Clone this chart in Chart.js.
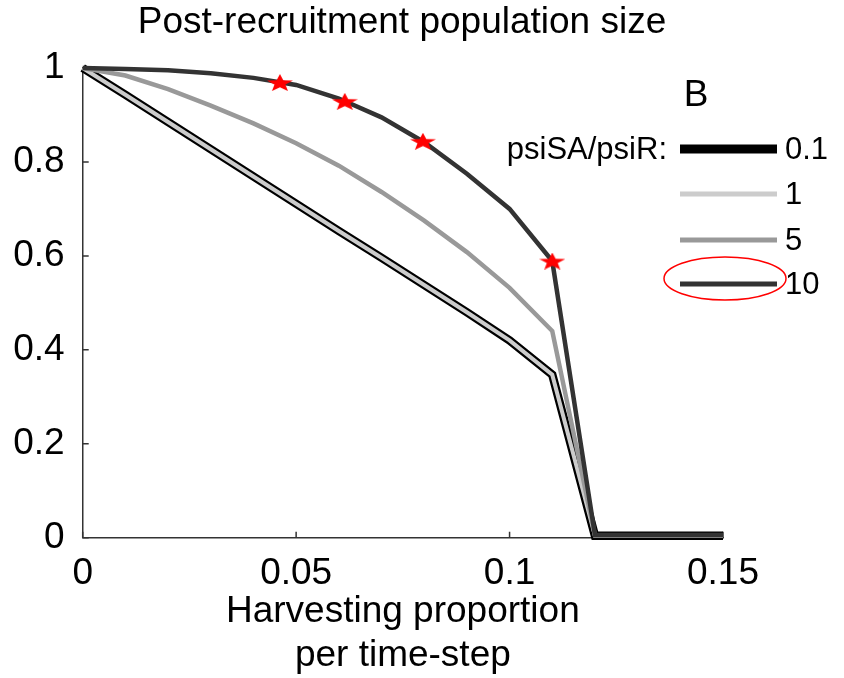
<!DOCTYPE html>
<html lang="en">
  <head>
    <meta charset="UTF-8" />
    <meta name="viewport" content="width=device-width, initial-scale=1.0" />
    <title>Post-recruitment population size</title>
    <script src="https://cdn.jsdelivr.net/npm/chart.js@4.4.0/dist/chart.umd.min.js"></script>
    <style>
      body {
        margin: 0;
        background: #fff;
      }
      #popChart {
        display: block;
      }
    </style>
  </head>
  <body>
    <canvas id="popChart" width="844" height="678"></canvas>

    <script>
      // harvesting proportion per time-step
      const harvest = [0, 0.01, 0.02, 0.03, 0.04, 0.05, 0.06, 0.07, 0.08, 0.09, 0.1, 0.11, 0.12, 0.13, 0.14, 0.15];

      // post-recruitment population size for each psiSA/psiR ratio
      const psi01 = [1, 0.943, 0.885, 0.827, 0.769, 0.711, 0.653, 0.596, 0.538, 0.48, 0.42, 0.347, 0.004, 0.004, 0.004, 0.004];
      const psi1 = [1, 0.943, 0.885, 0.827, 0.769, 0.711, 0.653, 0.596, 0.538, 0.48, 0.42, 0.347, 0.004, 0.004, 0.004, 0.004];
      const psi5 = [1, 0.984, 0.955, 0.92, 0.882, 0.84, 0.792, 0.736, 0.675, 0.608, 0.532, 0.44, 0.005, 0.005, 0.005, 0.005];
      const psi10 = [1, 0.998, 0.995, 0.989, 0.979, 0.964, 0.935, 0.895, 0.842, 0.775, 0.7, 0.589, 0.006, 0.006, 0.006, 0.006];

      // marked points on the psiSA/psiR = 10 curve
      const starX = [0.0462, 0.0614, 0.0797, 0.11];
      const starY = [0.969, 0.929, 0.844, 0.589];

      const ratios = ["0.1", "1", "5", "10"];
      const xTickLabels = ["0", "0.05", "0.1", "0.15"];
      const yTickLabels = ["0", "0.2", "0.4", "0.6", "0.8", "1"];

      const FONT = "'Liberation Sans', Arial, sans-serif";

      const toPoints = (xs, ys) => ys.map((y, i) => ({ x: xs[i], y: y }));

      function makeStar(w, h) {
        const c = document.createElement("canvas");
        c.width = w;
        c.height = h;
        const g = c.getContext("2d");
        const rx = w / 2 / Math.cos(Math.PI / 10);
        const ry = h / (1 + Math.cos(Math.PI / 5));
        g.fillStyle = "#ff0000";
        g.beginPath();
        for (let i = 0; i < 10; i++) {
          const k = i % 2 ? 0.42 : 1;
          const a = -Math.PI / 2 + (i * Math.PI) / 5;
          g.lineTo(w / 2 + k * rx * Math.cos(a), ry + k * ry * Math.sin(a));
        }
        g.closePath();
        g.fill();
        return c;
      }

      const lineSet = (label, ys, color, width, order) => ({
        label: label,
        data: toPoints(harvest, ys),
        borderColor: color,
        borderWidth: width,
        pointRadius: 0,
        tension: 0,
        fill: false,
        clip: 12,
        order: order,
      });

      const data = {
        datasets: [
          {
            type: "scatter",
            label: "stars",
            data: toPoints(starX, starY),
            pointStyle: makeStar(26, 17),
            pointRadius: 9,
            showLine: false,
            clip: 20,
            order: 0,
          },
          lineSet(ratios[3], psi10, "#333333", 4.5, 1),
          lineSet(ratios[2], psi5, "#999999", 4.5, 2),
          lineSet(ratios[1], psi1, "#cccccc", 4, 3),
          lineSet(ratios[0], psi01, "#000000", 8.5, 4),
        ],
      };

      // inward tick marks, title, panel letter and legend
      const decorations = {
        id: "decorations",
        beforeDatasetsDraw(chart) {
          const ctx = chart.ctx;
          const { left, bottom } = chart.chartArea;
          const xs = chart.scales.x;
          const ys = chart.scales.y;
          ctx.save();
          ctx.strokeStyle = "#333";
          ctx.lineWidth = 1.5;
          ctx.beginPath();
          xs.ticks.forEach((t) => {
            const px = xs.getPixelForValue(t.value);
            ctx.moveTo(px, bottom);
            ctx.lineTo(px, bottom - 6);
          });
          ys.ticks.forEach((t) => {
            const py = ys.getPixelForValue(t.value);
            ctx.moveTo(left, py);
            ctx.lineTo(left + 6, py);
          });
          ctx.stroke();
          ctx.restore();
        },
        afterDraw(chart) {
          const ctx = chart.ctx;
          ctx.save();
          ctx.fillStyle = "#000";
          ctx.textBaseline = "middle";
          ctx.textAlign = "center";
          ctx.font = "37px " + FONT;
          ctx.fillText("Post-recruitment population size", 402, 23);
          ctx.fillText("B", 696, 96);

          ctx.font = "31px " + FONT;
          ctx.textAlign = "right";
          ctx.fillText("psiSA/psiR:", 667, 150);

          const rowY = [149, 194, 240, 284];
          const legendSets = chart.data.datasets.filter((d) => d.type !== "scatter");
          ratios.forEach((r, i) => {
            const ds = legendSets.find((d) => d.label === r);
            ctx.strokeStyle = ds.borderColor;
            ctx.lineWidth = r === "0.1" ? 9 : 5;
            ctx.beginPath();
            ctx.moveTo(680, rowY[i]);
            ctx.lineTo(777, rowY[i]);
            ctx.stroke();
            ctx.textAlign = "left";
            ctx.fillText(r, 785, rowY[i] + 1);
          });

          ctx.strokeStyle = "#ff0000";
          ctx.lineWidth = 1.5;
          ctx.beginPath();
          ctx.ellipse(725, 278.5, 61, 21.5, 0, 0, Math.PI * 2);
          ctx.stroke();
          ctx.restore();
        },
      };

      const config = {
        type: "line",
        data: data,
        options: {
          responsive: false,
          animation: false,
          layout: { padding: { top: 68, right: 121, left: 0, bottom: 0 } },
          plugins: {
            legend: { display: false },
            tooltip: { enabled: false },
          },
          scales: {
            x: {
              type: "linear",
              min: 0,
              max: 0.15,
              grid: { display: false },
              border: { color: "#333", width: 1.5 },
              ticks: {
                stepSize: 0.05,
                color: "#000",
                font: { family: FONT, size: 37 },
                padding: 6,
                maxRotation: 0,
                callback: (v, i) => xTickLabels[i],
              },
              title: {
                display: true,
                text: ["Harvesting proportion", "per time-step"],
                color: "#000",
                font: { family: FONT, size: 37, lineHeight: 1.17 },
                padding: { top: 0, bottom: 1 },
              },
              afterFit: (s) => {
                s.height = 140.3;
              },
            },
            y: {
              min: 0,
              max: 1,
              grid: { display: false },
              border: { color: "#333", width: 1.5 },
              ticks: {
                stepSize: 0.2,
                color: "#000",
                font: { family: FONT, size: 37 },
                padding: 10,
                callback: (v, i) => yTickLabels[i],
              },
              afterFit: (s) => {
                s.width = 82.7;
              },
            },
          },
        },
        plugins: [decorations],
      };

      const popChart = new Chart(document.getElementById("popChart"), config);
    </script>
  </body>
</html>
